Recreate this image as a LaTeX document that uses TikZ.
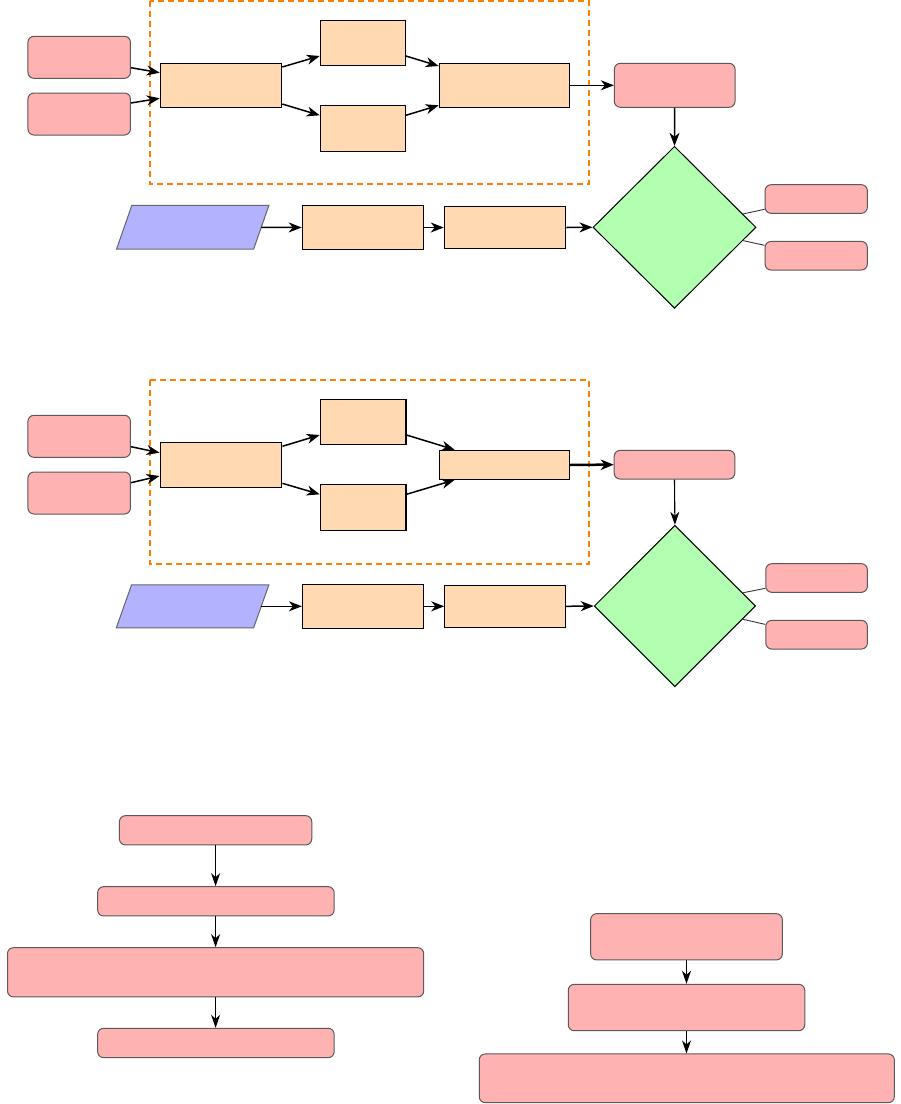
\documentclass[tikz,border=0pt]{standalone}
\usetikzlibrary{shapes.geometric,arrows.meta}
\begin{document}
\begin{tikzpicture}[x=1pt,y=-1pt,
  pbox/.style={rectangle,rounded corners=6pt,fill=red!30,draw=black!65,line width=1pt,inner sep=0pt},
  obox/.style={rectangle,fill=orange!30,draw=black,line width=1.2pt,inner sep=0pt},
  dbox/.style={diamond,aspect=1,fill=green!30,draw=black,line width=1pt,inner sep=0pt},
  ghost/.style={rectangle,inner sep=0pt},
  parastyle/.style={fill=blue!30,draw=black!60,line width=1pt},
  grp/.style={draw=orange,line width=1.7pt,dash pattern=on 6pt off 4pt},
  arr/.style={line width=1.5pt,-{Stealth[length=13pt,width=10pt,inset=4pt]}},
  thinarr/.style={line width=1.1pt,-{Stealth[length=13pt,width=9pt,inset=4pt]}},
  thickarr/.style={line width=2.5pt,-{Stealth[length=13pt,width=10.5pt,inset=4pt]}},
  link/.style={line width=0.9pt,draw=black!80}
]
\useasboundingbox (0,0) rectangle (901,1104);

% ================= top diagram =================
\draw[grp] (150,1) rectangle (589,184);
\node[pbox,minimum width=102.5pt,minimum height=42pt] (pA) at (79.2,57.3) {};
\node[pbox,minimum width=102.5pt,minimum height=42pt] (pB) at (79.2,114) {};
\node[obox,minimum width=121.3pt,minimum height=44pt] (C) at (221,85.3) {};
\node[obox,minimum width=85pt,minimum height=45pt] (D) at (362.8,42.8) {};
\node[obox,minimum width=85pt,minimum height=46pt] (E) at (362.8,128.3) {};
\node[obox,minimum width=130.5pt,minimum height=44pt] (F) at (504.5,85.3) {};
\node[pbox,minimum width=120.7pt,minimum height=44pt] (G) at (674.7,85.3) {};
\node[dbox,minimum width=163pt,minimum height=162pt] (dia) at (674.5,227.3) {};
\node[pbox,minimum width=102.3pt,minimum height=28.6pt] (H) at (816.2,199) {};
\node[pbox,minimum width=102.3pt,minimum height=28.6pt] (I) at (816.2,255.7) {};
\node[ghost,minimum width=152pt,minimum height=43.3pt] (para) at (192.7,227.3) {};
\draw[parastyle] (para.south west) -- ([xshift=-15.3pt]para.south east) -- (para.north east) -- ([xshift=15.3pt]para.north west) -- cycle;
\node[obox,minimum width=121pt,minimum height=43.6pt] (J) at (362.8,227.5) {};
\node[obox,minimum width=121.3pt,minimum height=41.6pt] (K) at (505,227.5) {};

\draw[arr] ([yshift=-10.4pt]pA.east) -- ([yshift=12.6pt]C.west);
\draw[arr] ([yshift=11pt]pB.east) -- ([yshift=-13pt]C.west);
\draw[arr] ([yshift=18.3pt]C.east) -- ([yshift=-13.2pt]D.west);
\draw[arr] ([yshift=-18.7pt]C.east) -- ([yshift=13pt]E.west);
\draw[arr] ([yshift=-13.2pt]D.east) -- ([yshift=19.3pt]F.west);
\draw[arr] ([yshift=13pt]E.east) -- ([yshift=-20pt]F.west);
\draw[arr] (F.east) -- (G.west);
\draw[arr] (G.south) -- (dia.north);
\draw[arr] ([xshift=-7.65pt]para.east) -- (J.west);
\draw[arr] (J.east) -- (K.west);
\draw[arr] (K.east) -- (dia.west);
\draw[link] (dia.11.5) -- ([yshift=-10.3pt]H.west);
\draw[link] (dia.-11.5) -- ([yshift=10.4pt]I.west);

% ================= middle diagram =================
\draw[grp] (150,380) rectangle (589,564);
\node[pbox,minimum width=102.5pt,minimum height=42pt] (pA2) at (79.2,436.3) {};
\node[pbox,minimum width=102.5pt,minimum height=42pt] (pB2) at (79.2,493) {};
\node[obox,minimum width=121.7pt,minimum height=45pt] (C2) at (221,464.8) {};
\node[obox,minimum width=85.6pt,minimum height=45pt] (D2) at (363.1,421.8) {};
\node[obox,minimum width=85.6pt,minimum height=46pt] (E2) at (363.1,507.3) {};
\node[obox,minimum width=129.8pt,minimum height=29pt] (F2) at (504.6,464.8) {};
\node[pbox,minimum width=120.6pt,minimum height=28.7pt] (G2) at (674.5,464.7) {};
\node[dbox,minimum width=161.3pt,minimum height=161.4pt] (dia2) at (674.9,606) {};
\node[pbox,minimum width=101.6pt,minimum height=28.6pt] (H2) at (816.6,578) {};
\node[pbox,minimum width=101.6pt,minimum height=28.7pt] (I2) at (816.6,634.7) {};
\node[ghost,minimum width=152.2pt,minimum height=42.7pt] (para2) at (192.6,606.3) {};
\draw[parastyle] (para2.south west) -- ([xshift=-15.3pt]para2.south east) -- (para2.north east) -- ([xshift=15.3pt]para2.north west) -- cycle;
\node[obox,minimum width=121.2pt,minimum height=44pt] (J2) at (363.1,606.3) {};
\node[obox,minimum width=120.5pt,minimum height=42pt] (K2) at (505.1,606.3) {};

\draw[arr] ([yshift=-10.4pt]pA2.east) -- ([yshift=12.1pt]C2.west);
\draw[arr] ([yshift=10.3pt]pB2.east) -- ([yshift=-11.2pt]C2.west);
\draw[arr] ([yshift=18.5pt]C2.east) -- ([yshift=-13.2pt]D2.west);
\draw[arr] ([yshift=-18.5pt]C2.east) -- ([yshift=13pt]E2.west);
\draw[arr] ([yshift=-13.2pt]D2.east) -- ([xshift=15.5pt]F2.north west);
\draw[arr] ([yshift=13pt]E2.east) -- ([xshift=15.5pt]F2.south west);
\draw[thickarr] (F2.east) -- (G2.west);
\draw[thinarr] (G2.south) -- (dia2.north);
\draw[arr] ([xshift=-7.65pt]para2.east) -- (J2.west);
\draw[arr] (J2.east) -- (K2.west);
\draw[arr] (K2.east) -- (dia2.west);
\draw[link] (dia2.11.3) -- ([yshift=-10.3pt]H2.west);
\draw[link] (dia2.-11.3) -- ([yshift=10.3pt]I2.west);

% ================= bottom left chain =================
\node[pbox,minimum width=192.3pt,minimum height=29.3pt] (L1) at (215.6,830.3) {};
\node[pbox,minimum width=236.5pt,minimum height=29.3pt] (L2) at (215.9,901.3) {};
\node[pbox,minimum width=416.2pt,minimum height=49.3pt] (L3) at (215.6,972.3) {};
\node[pbox,minimum width=236.5pt,minimum height=29.4pt] (L4) at (215.9,1043) {};
\draw[thinarr] (L1.south) -- (L1.south |- L2.north);
\draw[thinarr] (L1.south |- L2.south) -- (L1.south |- L3.north);
\draw[thinarr] (L1.south |- L3.south) -- (L1.south |- L4.north);

% ================= bottom right chain =================
\node[pbox,minimum width=191.7pt,minimum height=46.3pt] (R1) at (686.5,936.8) {};
\node[pbox,minimum width=236.5pt,minimum height=46.4pt] (R2) at (686.5,1007.5) {};
\node[pbox,minimum width=415.1pt,minimum height=48.7pt] (R3) at (686.8,1078.3) {};
\draw[thinarr] (R1.south) -- (R1.south |- R2.north);
\draw[thinarr] (R1.south |- R2.south) -- (R1.south |- R3.north);
\end{tikzpicture}
\end{document}
